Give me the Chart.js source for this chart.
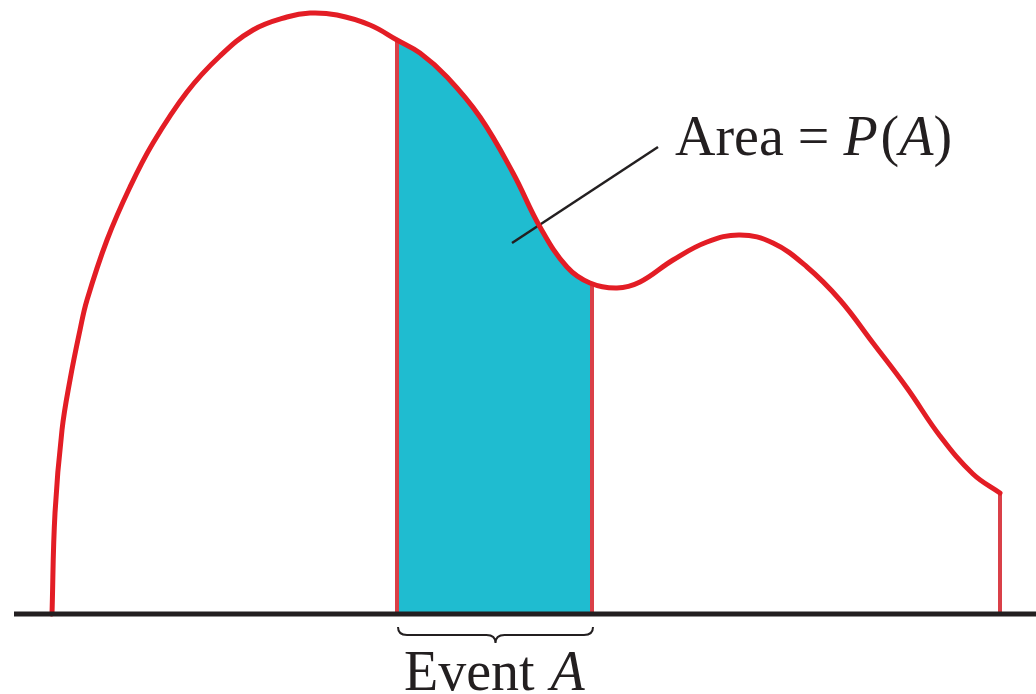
<!DOCTYPE html>
<html>
<head>
<meta charset="utf-8">
<script src="https://cdn.jsdelivr.net/npm/chart.js@4/dist/chart.umd.min.js"></script>
<style>
  body { margin: 0; background: #fff; }
  #wrap { width: 1036px; height: 694px; }
</style>
</head>
<body>
<div id="wrap"><canvas id="mycanvas" width="1036" height="694"></canvas></div>
<script>
// density curve
var curveX = [52,55,62,70,80,87,107,130,153,187,220,253,287,310,337,370,397,420,447,480,513,540,567,590,617,640,673,707,740,773,807,840,873,907,940,973,1000];
var curveY = [0,101,184,234,284,314,374,427,471,522,558,584,597,601,599,589,574,561,537,497,441,387,347,331,326,332,354,372,379,371,347,314,271,226,178,140,121];

// shaded part (event A)
var shadeX = [397,420,447,480,513,540,567,592];
var shadeY = [574,561,537,497,441,387,347,330];

var eventStart = 397, eventEnd = 592, curveEnd = 1000;
var axisFrom = 14, axisTo = 1036;

// leader line for the area label
var leaderX = [512, 658];
var leaderY = [371, 467];

var areaLabel = ["Area = ", "P", "(", "A", ")"];
var eventLabel = ["Event ", "A"];

function pts(xs, ys) {
  var out = [];
  for (var i in xs) out.push({x: xs[i], y: ys[i]});
  return out;
}

var ink = "#231f20";

var labels = {
  id: "labels",
  afterDatasetsDraw: function(chart) {
    var c = chart.ctx, sx = chart.scales.x;
    c.save();
    c.fillStyle = ink;
    c.textBaseline = "alphabetic";
    var up = "56px 'Liberation Serif', serif";
    var it = "italic 56px 'Liberation Serif', serif";
    // Area = P(A)
    var x = 675;
    for (var i = 0; i < areaLabel.length; i++) {
      c.font = (i == 1 || i == 3) ? it : up;
      c.fillText(areaLabel[i], x, 155);
      x += c.measureText(areaLabel[i]).width + (i == 1 ? 3 : 0);
    }
    // Event A
    x = 404;
    for (var j = 0; j < eventLabel.length; j++) {
      c.font = j == 1 ? it : up;
      c.fillText(eventLabel[j], x, 690);
      x += c.measureText(eventLabel[j]).width + 2;
    }
    // brace under event A
    var a = sx.getPixelForValue(eventStart) + 1, b = sx.getPixelForValue(eventEnd) + 1;
    var m = (a + b) / 2, top = 627, mid = 635, tip = 643;
    c.strokeStyle = ink;
    c.lineWidth = 2;
    c.beginPath();
    c.moveTo(a, top);
    c.quadraticCurveTo(a, mid, a + 9, mid);
    c.lineTo(m - 9, mid);
    c.quadraticCurveTo(m, mid, m, tip);
    c.quadraticCurveTo(m, mid, m + 9, mid);
    c.lineTo(b - 9, mid);
    c.quadraticCurveTo(b, mid, b, top);
    c.stroke();
    c.restore();
  }
};

var chartdata = {
  datasets: [
    {
      label: "axis",
      data: pts([axisFrom, axisTo], [0, 0]),
      borderColor: ink,
      borderWidth: 5,
      pointRadius: 0,
      fill: false,
      order: 0
    },
    {
      label: "density",
      data: pts(curveX, curveY),
      borderColor: "#e31d25",
      borderWidth: 5,
      pointRadius: 0,
      fill: false,
      tension: 0.4,
      borderCapStyle: "round",
      order: 1
    },
    {
      label: "leader",
      data: pts(leaderX, leaderY),
      borderColor: ink,
      borderWidth: 2.5,
      pointRadius: 0,
      fill: false,
      order: 1
    },
    {
      label: "left edge",
      data: pts([eventStart, eventStart], [0, shadeY[0]]),
      borderColor: "#da4048",
      borderWidth: 4,
      pointRadius: 0,
      fill: false,
      order: 2
    },
    {
      label: "right edge",
      data: pts([eventEnd, eventEnd], [0, shadeY[shadeY.length - 1]]),
      borderColor: "#da4048",
      borderWidth: 4,
      pointRadius: 0,
      fill: false,
      order: 2
    },
    {
      label: "end",
      data: pts([curveEnd, curveEnd], [0, curveY[curveY.length - 1]]),
      borderColor: "#da4048",
      borderWidth: 4,
      pointRadius: 0,
      fill: false,
      order: 2
    },
    {
      label: "P(A)",
      data: pts(shadeX, shadeY),
      borderWidth: 0,
      borderColor: "rgba(0,0,0,0)",
      backgroundColor: "#1fbcd0",
      pointRadius: 0,
      fill: "origin",
      tension: 0.4,
      order: 3
    }
  ]
};

var ctx = document.getElementById("mycanvas");
var chart = new Chart(ctx, {
  type: "line",
  data: chartdata,
  plugins: [labels],
  options: {
    responsive: false,
    animation: { duration: 0 },
    layout: { padding: 0 },
    plugins: { legend: { display: false }, tooltip: { enabled: false } },
    scales: {
      x: { type: "linear", min: 0, max: 1036, display: false },
      y: { min: -80, max: 614, display: false }
    }
  }
});
</script>
</body>
</html>
